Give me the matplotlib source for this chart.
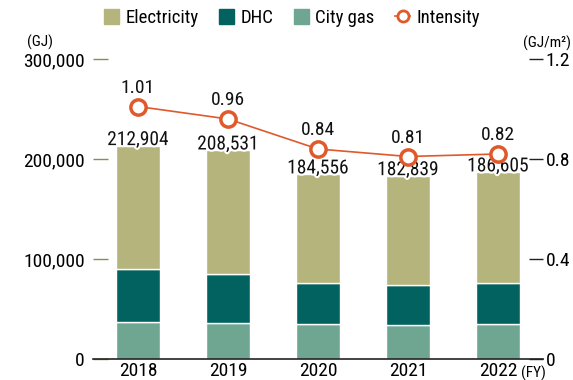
import matplotlib
matplotlib.use("Agg")
import matplotlib.pyplot as plt
import matplotlib.patheffects as pe
from matplotlib.lines import Line2D
from matplotlib.patches import Patch

years = ["2018", "2019", "2020", "2021", "2022"]
totals = [212904, 208531, 184556, 182839, 186605]
city_gas = [37000, 36000, 35000, 34000, 35000]
dhc = [53000, 49000, 41000, 40000, 41000]
electricity = [t - c - d for t, c, d in zip(totals, city_gas, dhc)]
intensity = [1.01, 0.96, 0.84, 0.81, 0.82]

plt.rcParams["font.family"] = ["Roboto Condensed", "DejaVu Sans"]

c_elec = "#b5b47c"
c_dhc = "#02625f"
c_gas = "#6fa692"
c_line = "#e0592a"

fig = plt.figure(figsize=(5.73, 3.8), dpi=100)
ax = fig.add_axes([93 / 573, 21 / 380, 450 / 573, 300 / 380])
x = list(range(len(years)))
w = 0.49

ax.bar(x, city_gas, w, color=c_gas, edgecolor="white", linewidth=1)
ax.bar(x, dhc, w, bottom=city_gas, color=c_dhc, edgecolor="white", linewidth=1)
bottom2 = [c + d for c, d in zip(city_gas, dhc)]
ax.bar(x, electricity, w, bottom=bottom2, color=c_elec, edgecolor="white", linewidth=1)

# totals sit just over the bar tops, haloed so they read over the fill
for i, t in enumerate(totals):
    ax.text(i, t + 6000, f"{t:,}", ha="center", va="center", fontsize=14,
            color="#111111", zorder=6,
            path_effects=[pe.withStroke(linewidth=3, foreground="white")])

ax.set_xlim(-0.5, 4.5)
ax.set_ylim(0, 300000)
ax.set_yticks([0, 100000, 200000, 300000])
ax.set_yticklabels(["0", "100,000", "200,000", "300,000"])
ax.tick_params(axis="y", direction="in", length=11, width=1, color="#8c8a55",
               labelsize=14, pad=6)
ax.set_xticks(x)
ax.set_xticklabels(years)
ax.tick_params(axis="x", length=0, labelsize=14, pad=2)
for s in ["top", "right", "left"]:
    ax.spines[s].set_visible(False)
ax.spines["bottom"].set_linewidth(1.2)
ax.spines["bottom"].set_color("#222222")

ax2 = ax.twinx()
ax2.plot(x, intensity, color=c_line, linewidth=1.2, marker="o", markersize=11,
         markerfacecolor="white", markeredgecolor=c_line, markeredgewidth=2.5,
         zorder=5)
for i, v in enumerate(intensity):
    ax2.annotate(f"{v:.2f}", (i, v), xytext=(0, 7), textcoords="offset points",
                 ha="center", va="bottom", fontsize=14, color="#111111")
ax2.set_ylim(0, 1.2)
ax2.set_yticks([0, 0.4, 0.8, 1.2])
ax2.set_yticklabels(["0", "0.4", "0.8", "1.2"])
ax2.tick_params(axis="y", direction="in", length=10, width=1, color="#222222",
                labelsize=14, pad=2)
for s in ["top", "right", "left", "bottom"]:
    ax2.spines[s].set_visible(False)

fig.text(27 / 573, 1 - 42 / 380, "(GJ)", fontsize=11, va="center", ha="left")
fig.text(571 / 573, 1 - 43 / 380, "(GJ/m²)", fontsize=11, va="center", ha="right")
fig.text(521 / 573, 1 - 373 / 380, "(FY)", fontsize=11, va="center", ha="left")

handles = [
    Patch(color=c_elec, label="Electricity"),
    Patch(color=c_dhc, label="DHC"),
    Patch(color=c_gas, label="City gas"),
    Line2D([], [], color=c_line, linewidth=1.2, marker="o", markersize=8,
           markerfacecolor="white", markeredgewidth=2, label="Intensity"),
]
fig.legend(handles=handles, loc="center", bbox_to_anchor=(292 / 573, 1 - 18 / 380),
           ncol=4, frameon=False, fontsize=13.5, handlelength=0.8, handleheight=0.8,
           handletextpad=0.33, columnspacing=1.1)

fig.savefig("out.png", dpi=100)
